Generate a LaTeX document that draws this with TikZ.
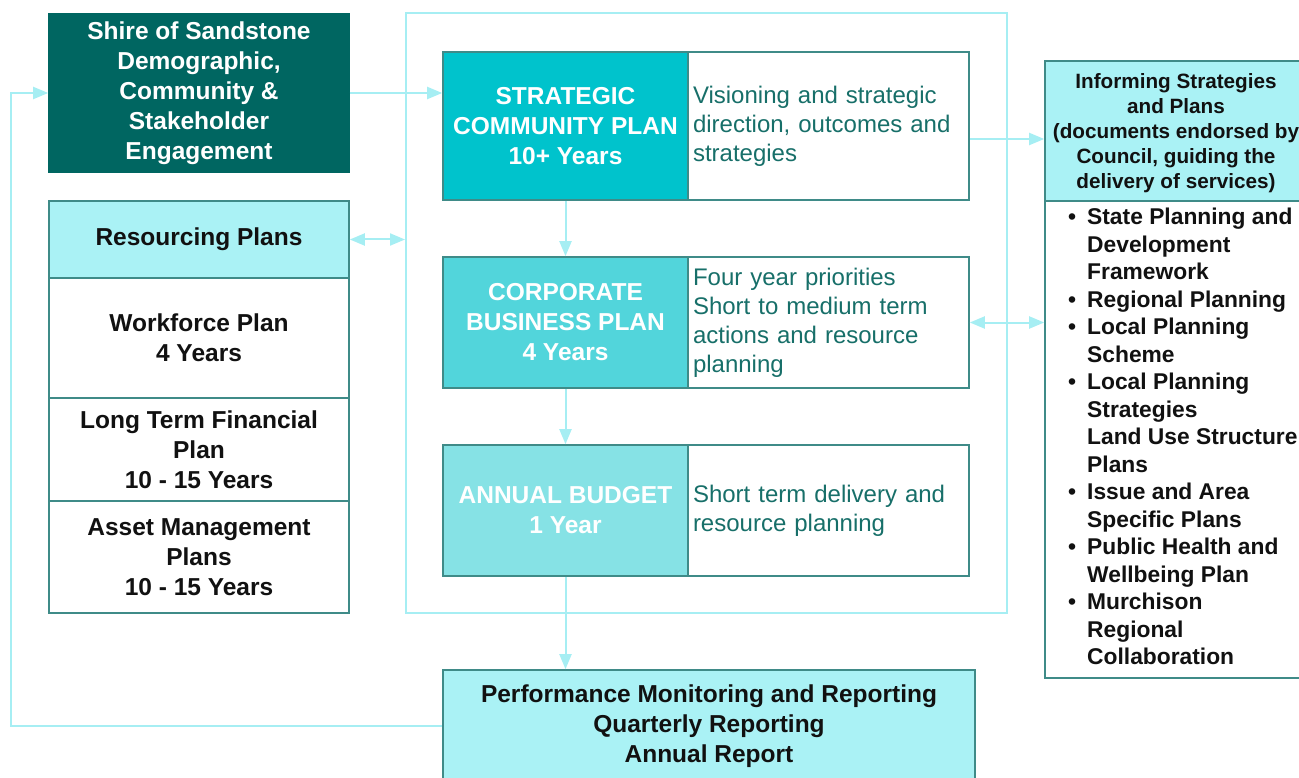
\documentclass[tikz,border=0pt]{standalone}
\usepackage{fontspec}
\setmainfont{Liberation Sans}
\usetikzlibrary{arrows.meta}

\definecolor{deepteal}{HTML}{006661}
\definecolor{scpfill}{HTML}{00C3CC}
\definecolor{cbpfill}{HTML}{52D5DB}
\definecolor{abfill}{HTML}{86E2E5}
\definecolor{paleaqua}{HTML}{AAF2F5}
\definecolor{edgeteal}{HTML}{3F8B88}
\definecolor{flowline}{HTML}{A6EEF3}
\definecolor{desctext}{HTML}{176F69}
\definecolor{inktext}{HTML}{111111}

\newcommand{\bigbold}{\fontsize{24.5}{30}\selectfont\bfseries}
\newcommand{\descfont}{\fontsize{24}{29}\selectfont}
\newcommand{\headfont}{\fontsize{20.7}{25}\selectfont\bfseries}
\newcommand{\listfont}{\fontsize{22.8}{27.5}\selectfont\bfseries}
\newcommand{\bul}{\llap{\textbullet\hspace{11pt}}}

\begin{document}
\begin{tikzpicture}[x=1pt,y=-1pt,
  cell/.style={draw=edgeteal, line width=1.6pt, rectangle, inner sep=0pt,
    align=center, text=inktext, font=\bigbold},
  plancell/.style={cell, text=white},
  desccell/.style={draw=edgeteal, line width=1.6pt, rectangle, fill=white,
    inner xsep=5pt, inner ysep=0pt, text width=271pt, minimum width=281pt,
    align=left, text=desctext, font=\descfont},
  flow/.style={draw=flowline, line width=2pt,
    -{Triangle[length=15pt,width=12pt]}},
  flowboth/.style={draw=flowline, line width=2pt,
    {Triangle[length=15pt,width=12pt]}-{Triangle[length=15pt,width=12pt]}}
]
\useasboundingbox (0,0) rectangle (1299,778);
\clip (0,0) rectangle (1299,778);

% outer frame around the three planning levels
\node[draw=flowline, line width=2pt, rectangle, minimum width=601pt,
  minimum height=600pt, inner sep=0pt] (frame) at (706.5,313) {};

% engagement box
\node[cell, fill=deepteal, draw=deepteal, text=white, minimum width=300pt,
  minimum height=158pt] (shire) at (199,93)
  {Shire of Sandstone\\Demographic,\\Community \&\\Stakeholder\\Engagement};

% resourcing plans column
\node[cell, fill=paleaqua, minimum width=300pt, minimum height=77pt]
  (res) at (199,239.5) {Resourcing Plans};
\node[cell, fill=white, minimum width=300pt, minimum height=120pt]
  (wfp) at (199,338) {Workforce Plan\\4 Years};
\node[cell, fill=white, minimum width=300pt, minimum height=103pt]
  (ltfp) at (199,449.5) {Long Term Financial\\Plan\\10 - 15 Years};
\node[cell, fill=white, minimum width=300pt, minimum height=112pt]
  (amp) at (199,557) {Asset Management\\Plans\\10 - 15 Years};

% strategic community plan
\node[plancell, fill=scpfill, minimum width=245pt, minimum height=148pt]
  (scpL) at (565.5,126) {STRATEGIC\\COMMUNITY PLAN\\10+ Years};
\node[desccell, minimum height=148pt] (scpR) at (828.5,126)
  {Visioning and strategic\\direction, outcomes and\\strategies};

% corporate business plan
\node[plancell, fill=cbpfill, minimum width=245pt, minimum height=131pt]
  (cbpL) at (565.5,322.5) {CORPORATE\\BUSINESS PLAN\\4 Years};
\node[desccell, minimum height=131pt] (cbpR) at (828.5,322.5)
  {Four year priorities\\Short to medium term\\actions and resource\\planning};

% annual budget
\node[plancell, fill=abfill, minimum width=245pt, minimum height=131pt]
  (abL) at (565.5,510.5) {ANNUAL BUDGET\\1 Year};
\node[desccell, minimum height=131pt] (abR) at (828.5,510.5)
  {Short term delivery and\\resource planning};

% performance reporting
\node[cell, fill=paleaqua, minimum width=532pt, minimum height=112pt]
  (perf) at (709,726)
  {Performance Monitoring and Reporting\\Quarterly Reporting\\Annual Report};

% informing strategies panel
\node[cell, fill=paleaqua, minimum width=262pt, minimum height=140pt]
  (infoHead) at (1176,131) {};
\node[align=center, inner sep=0pt, text=inktext, font=\headfont]
  (infoTitle) at (1176,133.5)
  {Informing Strategies\\and Plans\\(documents endorsed by\\Council, guiding the\\delivery of services)};
\node[cell, fill=white, minimum width=262pt, minimum height=477pt]
  (infoBody) at (1176,439.5) {};
\node[anchor=north west, inner sep=0pt, align=left, text=inktext,
  font=\listfont] (infoList) at (1087,208)
  {\bul State Planning and\\Development\\Framework\\
   \bul Regional Planning\\
   \bul Local Planning\\Scheme\\
   \bul Local Planning\\Strategies\\Land Use Structure\\Plans\\
   \bul Issue and Area\\Specific Plans\\
   \bul Public Health and\\Wellbeing Plan\\
   \bul Murchison\\Regional\\Collaboration};

% connectors
\draw[flow] (shire.east) -- (shire.east -| scpL.west);
\draw[flowboth] (res.east) -- (res.east -| frame.west);
\draw[flow] ([yshift=-13pt]scpR.east) -- ([yshift=-13pt]scpR.east -| infoHead.west);
\draw[flowboth] (cbpR.east) -- (cbpR.east -| infoBody.west);
\draw[flow] (scpL.south) -- (scpL.south |- cbpL.north);
\draw[flow] (cbpL.south) -- (cbpL.south |- abL.north);
\draw[flow] (abL.south) -- (abL.south |- perf.north);
\coordinate (loopcorner) at (11,726);
\draw[flow] (perf.west) -- (loopcorner) |- (shire.west);
\end{tikzpicture}
\end{document}
